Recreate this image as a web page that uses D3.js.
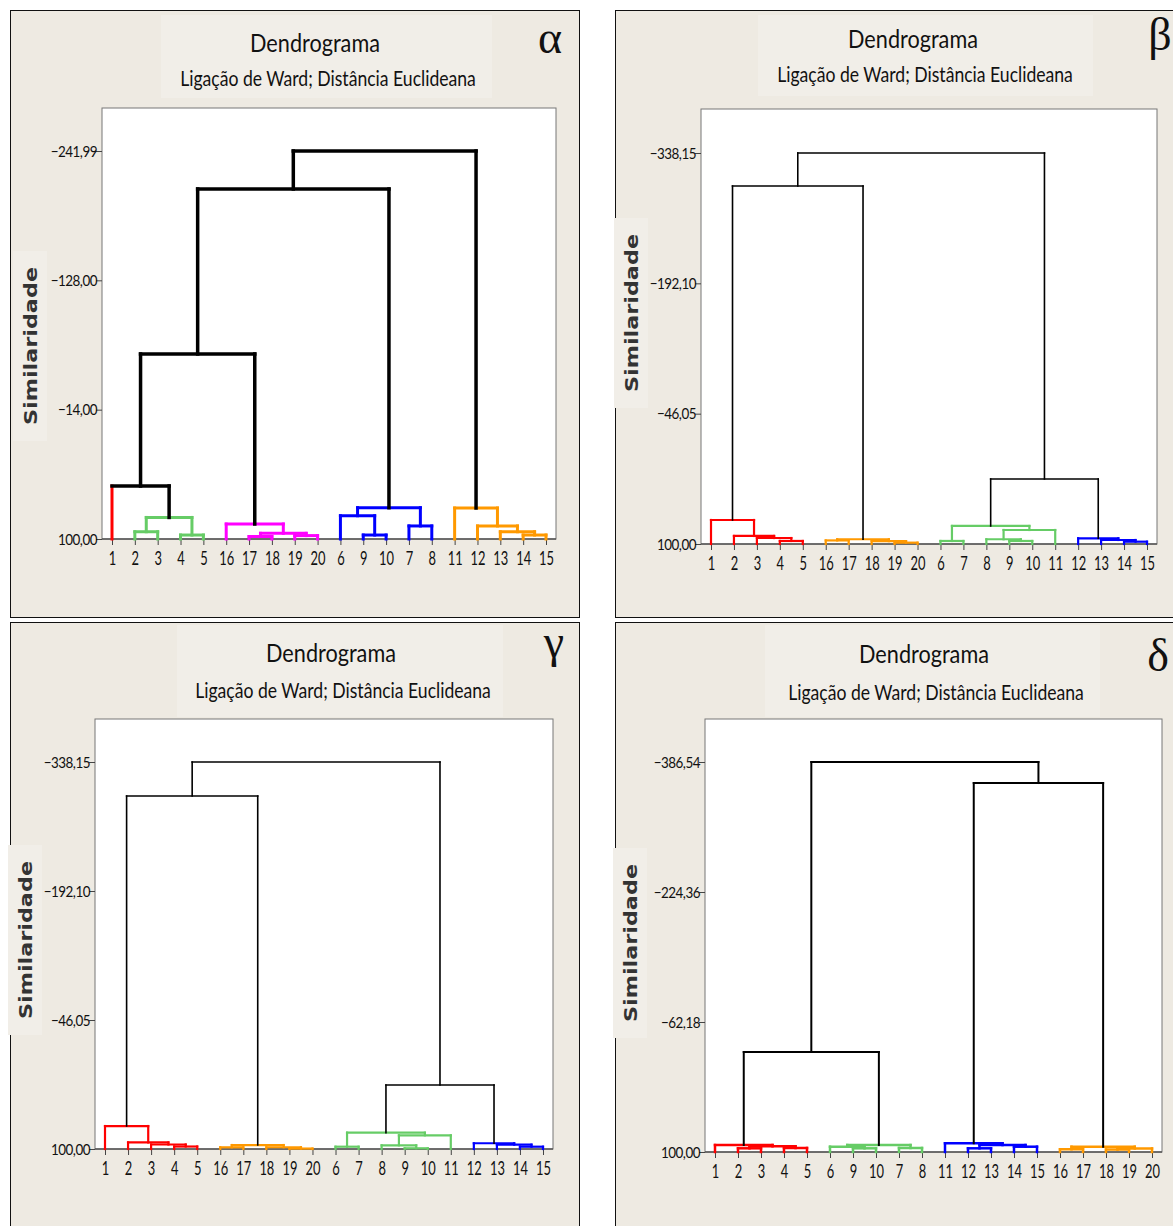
<!DOCTYPE html>
<html lang="pt">
<head>
<meta charset="UTF-8">
<title>Dendrogramas - Ligação de Ward</title>
<script src="https://d3js.org/d3.v7.min.js"></script>
<style>
  body { margin: 0; background: #fff; }
  svg { display: block; }
</style>
</head>
<body>
<svg id="chart" width="1173" height="1226"></svg>
<script>
// ---- data (similaridade de cada fusão) ----
// alpha
const leavesA = [1, 2, 3, 4, 5, 16, 17, 18, 19, 20, 6, 9, 10, 7, 8, 11, 12, 13, 14, 15];
const clusterA = [0, 1, 1, 1, 1, 2, 2, 2, 2, 2, 3, 3, 3, 3, 3, 4, 4, 4, 4, 4];
const mergesA = [
  [2, 3, 93.6], [4, 5, 96.5], ["m0", "m1", 81.0],
  [17, 18, 97.8], [19, 20, 97.0], ["m3", "m4", 95.0], [16, "m5", 86.8],
  [9, 10, 96.5], [6, "m7", 79.5], [7, 8, 88.5], ["m8", "m9", 72.4],
  [14, 15, 96.5], [13, "m11", 93.6], [12, "m12", 88.5], [11, "m13", 72.7],
  [1, "m2", 53.3], ["m15", "m6", -63.1], ["m16", "m10", -208.5], ["m17", "m14", -241.99]
];
const ticksA = [-241.99, -128.00, -14.00, 100.00];

// beta
const leavesB = [1, 2, 3, 4, 5, 16, 17, 18, 19, 20, 6, 7, 8, 9, 10, 11, 12, 13, 14, 15];
const clusterB = [0, 0, 0, 0, 0, 1, 1, 1, 1, 1, 2, 2, 2, 2, 2, 2, 3, 3, 3, 3];
const mergesB = [
  [4, 5, 96.6], [3, "m0", 93.3], [2, "m1", 91.0], [1, "m2", 73.1],
  [16, 17, 96.0], [19, 20, 98.5], [18, "m5", 96.8], ["m4", "m6", 94.7],
  [6, 7, 96.6], [9, 10, 96.6], [8, "m9", 94.7], ["m10", 11, 84.3], ["m8", "m11", 79.8],
  [14, 15, 97.4], [13, "m13", 95.5], [12, "m14", 93.6],
  ["m3", "m7", -301.2], ["m12", "m15", 27.2], ["m16", "m17", -338.15]
];
const ticksB = [-338.15, -192.10, -46.05, 100.00];

// gamma
const leavesC = [1, 2, 3, 4, 5, 16, 17, 18, 19, 20, 6, 7, 8, 9, 10, 11, 12, 13, 14, 15];
const clusterC = [0, 0, 0, 0, 0, 1, 1, 1, 1, 1, 2, 2, 2, 2, 2, 2, 3, 3, 3, 3];
const mergesC = [
  [4, 5, 97.2], [3, "m0", 94.9], [2, "m1", 92.6], [1, "m2", 74.0],
  [16, 17, 98.1], [19, 20, 99.5], [18, "m5", 98.0], ["m4", "m6", 95.5],
  [6, 7, 97.4], [9, 10, 99.2], [8, "m9", 95.8], ["m10", 11, 84.5], ["m8", "m11", 81.5],
  [14, 15, 97.4], [13, "m13", 95.1], [12, "m14", 93.5],
  ["m3", "m7", -299.6], ["m12", "m15", 27.5], ["m16", "m17", -338.15]
];
const ticksC = [-338.15, -192.10, -46.05, 100.00];

// delta
const leavesD = [1, 2, 3, 4, 5, 6, 9, 10, 7, 8, 11, 12, 13, 14, 15, 16, 17, 18, 19, 20];
const clusterD = [0, 0, 0, 0, 0, 1, 1, 1, 1, 1, 2, 2, 2, 2, 2, 3, 3, 3, 3, 3];
const mergesD = [
  [2, 3, 95.4], [4, 5, 95.0], ["m0", "m1", 92.9], [1, "m2", 91.3],
  [9, 10, 95.4], [6, "m4", 93.4], [7, 8, 95.0], ["m5", "m6", 91.3],
  [12, 13, 95.4], [14, 15, 93.4], ["m8", "m9", 91.3], [11, "m10", 89.1],
  [16, 17, 96.6], [18, 19, 96.9], ["m13", 20, 95.6], ["m12", "m14", 93.4],
  ["m3", "m7", -24.75], ["m11", "m15", -360.3], ["m16", "m17", -386.54]
];
const ticksD = [-386.54, -224.36, -62.18, 100.00];

const titleText = "Dendrograma";
const subText = "Ligação de Ward; Distância Euclideana";
const yLabel = "Similaridade";

// ---- layout / styles ----
const RED = "#ff0000", GREEN = "#66cc66", MAG = "#ff00ff", BLUE = "#0000ff", ORANGE = "#ff9900";

const panels = [
  { leaves: leavesA, cluster: clusterA, merges: mergesA, ticks: ticksA,
    palette: [RED, GREEN, MAG, BLUE, ORANGE], greek: "α",
    frame: [10, 10, 569, 607], plot: { l: 102, t: 108, r: 556, b: 539 }, topY: 151,
    title: [315, 52], sub: [328, 86], greekPos: [550, 53], ylab: [30, 346],
    tbox: [161, 15, 331, 83], lw: { k: 3.5, c: 3 } },
  { leaves: leavesB, cluster: clusterB, merges: mergesB, ticks: ticksB,
    palette: [RED, ORANGE, GREEN, BLUE], greek: "β",
    frame: [615, 10, 570, 607], plot: { l: 701, t: 109, r: 1157, b: 544 }, topY: 153,
    title: [913, 48], sub: [925, 82], greekPos: [1160, 50], ylab: [631, 313],
    tbox: [758, 15, 335, 81], lw: { k: 1.6, c: 2.2 } },
  { leaves: leavesC, cluster: clusterC, merges: mergesC, ticks: ticksC,
    palette: [RED, ORANGE, GREEN, BLUE], greek: "γ",
    frame: [10, 622, 569, 610], plot: { l: 95, t: 719, r: 553, b: 1149 }, topY: 762,
    title: [331, 662], sub: [343, 698], greekPos: [554, 657], ylab: [25, 940],
    tbox: [177, 625, 326, 92], lw: { k: 1.6, c: 2.2 } },
  { leaves: leavesD, cluster: clusterD, merges: mergesD, ticks: ticksD,
    palette: [RED, GREEN, BLUE, ORANGE], greek: "δ",
    frame: [615, 622, 570, 610], plot: { l: 705, t: 719, r: 1162, b: 1152 }, topY: 762,
    title: [924, 663], sub: [936, 700], greekPos: [1158, 671], ylab: [630, 943],
    tbox: [765, 625, 335, 92], lw: { k: 2, c: 2.5 } }
];

const svg = d3.select("#chart");
const fmt = v => d3.format(".2f")(v).replace(".", ",");

// squeeze a text horizontally to a target width
function fitText(sel, x, y, w) {
  const len = sel.node().getComputedTextLength();
  sel.attr("transform", `translate(${x},${y}) scale(${w / len},1)`);
}

function drawPanel(p) {
  const g = svg.append("g");
  const [fx, fy, fw, fh] = p.frame;
  g.append("rect").attr("x", fx + 0.5).attr("y", fy + 0.5).attr("width", fw).attr("height", fh)
    .attr("fill", "#eeeae2").attr("stroke", "#111").attr("stroke-width", 1);

  // title block
  g.append("rect").attr("x", p.tbox[0]).attr("y", p.tbox[1]).attr("width", p.tbox[2]).attr("height", p.tbox[3])
    .attr("fill", "#f1eee8");
  const t = g.append("text").attr("text-anchor", "middle")
    .style("font-family", "Lato, 'Open Sans', sans-serif").style("font-size", "25px").attr("fill", "#111")
    .text(titleText);
  fitText(t, p.title[0], p.title[1], 130);
  const s = g.append("text").attr("text-anchor", "middle")
    .style("font-family", "Lato, 'Open Sans', sans-serif").style("font-size", "22px").attr("fill", "#111")
    .text(subText);
  fitText(s, p.sub[0], p.sub[1], 296);

  g.append("text").attr("x", p.greekPos[0]).attr("y", p.greekPos[1]).attr("text-anchor", "middle")
    .style("font-family", "'Liberation Serif', 'DejaVu Serif', serif").style("font-size", "46px")
    .attr("fill", "#111").text(p.greek);

  // y label
  g.append("rect").attr("x", p.ylab[0] - 17).attr("y", p.ylab[1] - 95).attr("width", 34).attr("height", 190)
    .attr("fill", "#f1eee8");
  g.append("text").attr("transform", `translate(${p.ylab[0] + 7},${p.ylab[1]}) rotate(-90)`)
    .attr("text-anchor", "middle")
    .style("font-family", "'DejaVu Sans', Verdana, sans-serif").style("font-size", "18px")
    .style("font-weight", "bold").attr("fill", "#333")
    .attr("textLength", 158).attr("lengthAdjust", "spacingAndGlyphs")
    .text(yLabel);

  // plot area
  const { l, t: top, r, b } = p.plot;
  g.append("rect").attr("x", l).attr("y", top).attr("width", r - l).attr("height", b - top)
    .attr("fill", "#fff").attr("stroke", "#777").attr("stroke-width", 1);

  const x = d3.scalePoint().domain(p.leaves).range([l + 10, r - 10]);
  const y = d3.scaleLinear().domain([100, p.ticks[0]]).range([b, p.topY]);
  const color = d3.scaleOrdinal().domain(d3.range(p.palette.length)).range(p.palette);

  // axes
  const ya = g.append("g").attr("transform", `translate(${l},0)`)
    .call(d3.axisLeft(y).tickValues(p.ticks).tickFormat(fmt).tickSize(6).tickSizeOuter(0));
  ya.select(".domain").remove();
  ya.selectAll(".tick line").attr("stroke", "#444");
  ya.selectAll(".tick text").attr("x", -6).attr("transform", "scale(0.84,1)")
    .style("font-family", "Lato, sans-serif").style("font-size", "16px").style("letter-spacing", "-0.6px")
    .attr("fill", "#111");

  const xa = g.append("g").attr("transform", `translate(0,${b})`)
    .call(d3.axisBottom(x).tickSize(6).tickSizeOuter(0));
  xa.select(".domain").remove();
  xa.selectAll(".tick line").attr("stroke", "#444");
  xa.selectAll(".tick text").attr("y", 13).attr("transform", "scale(0.68,1)")
    .style("font-family", "Lato, sans-serif").style("font-size", "19px").attr("fill", "#111");
  g.append("line").attr("x1", l).attr("x2", r).attr("y1", b).attr("y2", b)
    .attr("stroke", "#555").attr("stroke-width", 1.5);

  // dendrogram links
  const nodes = new Map();
  p.leaves.forEach((id, i) => nodes.set(id, { x: x(id), y: y(100), cl: p.cluster[i], leaf: true }));
  const segs = [];
  p.merges.forEach(([a, bb, sim], i) => {
    const na = nodes.get(a), nb = nodes.get(bb);
    const cl = na.cl === nb.cl ? na.cl : -1;
    const ny = y(sim);
    const pc = cl < 0 ? "#000" : color(cl);
    segs.push({ d: `M${na.x},${na.y}V${ny}`, c: na.leaf ? color(na.cl) : pc });
    segs.push({ d: `M${nb.x},${nb.y}V${ny}`, c: nb.leaf ? color(nb.cl) : pc });
    segs.push({ d: `M${na.x},${ny}H${nb.x}`, c: pc });
    nodes.set("m" + i, { x: (na.x + nb.x) / 2, y: ny, cl, leaf: false });
  });
  segs.sort((s1, s2) => (s1.c === "#000") - (s2.c === "#000"));
  g.append("g").selectAll("path").data(segs).join("path")
    .attr("d", d => d.d).attr("fill", "none")
    .attr("stroke", d => d.c)
    .attr("stroke-width", d => d.c === "#000" ? p.lw.k : p.lw.c)
    .attr("stroke-linecap", "square");
}

panels.forEach(drawPanel);
</script>
</body>
</html>
